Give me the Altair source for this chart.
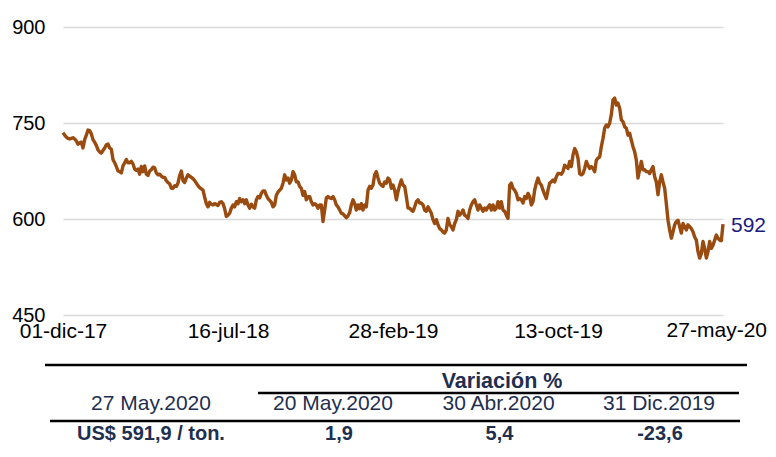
import altair as alt
import pandas as pd

START = "2017-12-01"
END = "2020-05-27"

# Price (US$/ton), in chronological order, evenly spaced in time
SEG1 = [735, 731, 728, 726, 725, 726, 727, 725, 722, 717, 719, 720, 711, 724, 731, 739, 738, 733, 724, 720,
        715, 708, 705, 703, 707, 711, 716, 717, 711, 709, 693, 688, 682, 675, 674, 672, 683, 688, 693, 688,
        688, 690, 686, 678, 676, 678, 670, 682, 674, 683, 670, 668, 675, 677, 681, 680, 672, 669, 670, 667,
        665, 665, 660, 657, 655, 648, 648, 652, 651, 656, 668, 675, 660, 657, 664, 669, 667, 665, 663, 660,
        656, 652, 649, 647, 645, 634, 624, 619, 626, 623, 622, 624, 623, 621, 626, 627, 624, 616]
SEG2 = [604, 606, 609, 617, 622, 619, 627, 624, 632, 627, 630, 624, 630, 622, 617, 623, 619, 617, 630, 635,
        633, 640, 644, 644, 637, 632, 629, 626, 619, 622, 637, 642, 645, 648, 656, 669, 661, 664, 656, 661,
        674, 669, 658, 658, 651, 648, 637, 643, 630, 635, 635, 627, 622, 624, 622, 617, 622, 622, 596, 614,
        633, 635, 633, 632, 635, 630, 622, 619, 614, 609, 608, 605, 602, 605, 610, 622, 630, 624, 614, 622,
        616, 624, 614, 622, 619, 645, 651, 648, 653, 669, 674, 664, 656, 653, 651, 658, 656, 664, 661, 648,
        653, 645]
SEG3 = [630, 643, 653, 661, 653, 651, 635, 617, 617, 614, 612, 619, 627, 630, 625, 625, 622, 614, 612, 619,
        614, 609, 599, 593, 599, 591, 585, 583, 580, 578, 583, 601, 591, 588, 583, 593, 599, 612, 606, 609,
        614, 606, 604, 601, 614, 622, 627, 630, 622, 614, 622, 617, 612, 617, 614, 619, 622, 614, 622, 614,
        617, 627, 617, 627, 614, 612, 606, 601, 653, 656, 648, 645, 640, 630, 632, 630, 625, 635, 632, 640,
        635, 622, 627, 645, 656, 664, 656, 653, 645, 638, 632, 645, 656, 658, 661, 658, 666, 671, 671]
SEG4 = [670, 674, 684, 682, 679, 690, 682, 700, 710, 705, 695, 671, 669, 671, 679, 690, 684, 679, 682, 679,
        674, 692, 695, 697, 713, 726, 742, 747, 744, 750, 763, 786, 789, 778, 781, 773, 755, 752, 744, 742,
        731, 734, 723, 713, 705, 692, 664, 677, 690, 677, 677, 674, 674, 671, 677, 682, 666, 658, 638, 658,
        669, 658, 648, 624, 598, 583, 570, 580, 591, 596, 598, 588, 578, 593, 588, 583, 591, 588, 585, 580,
        572, 567, 549, 539, 546, 565, 554, 539, 549, 565, 554, 559, 567, 575, 570, 567, 566, 592]

PRICE = SEG1 + SEG2 + SEG3 + SEG4
DATES = pd.date_range(START, END, periods=len(PRICE)).round("min")

Y_TICKS = [450, 600, 750, 900]
X_TICKS = [(2017, 12, 1), (2018, 7, 16), (2019, 2, 28), (2019, 10, 13), (2020, 5, 27)]
MONTHS_ES = ["ene", "feb", "mar", "abr", "may", "jun", "jul", "ago", "sep", "oct", "nov", "dic"]

TABLE_GROUP = "Variación %"
TABLE_HEADERS = ["27 May.2020", "20 May.2020", "30 Abr.2020", "31 Dic.2019"]
TABLE_VALUES = ["US$ 591,9 / ton.", "1,9", "5,4", "-23,6"]

FONT = "Liberation Sans"
LINE_COLOR = "#9a4b0f"
TABLE_COLOR = "#1f2f4f"

df = pd.DataFrame({"fecha": DATES, "precio": PRICE})
last = df.tail(1).assign(lbl=lambda d: d["precio"].round(0).astype(int).astype(str))

month_arr = "[" + ",".join("'" + m + "'" for m in MONTHS_ES) + "]"
last_tick = X_TICKS[-1]
last_tick_label = "%02d-%s-%02d" % (last_tick[2], MONTHS_ES[last_tick[1] - 1], last_tick[0] % 100)
# the last tick label is drawn as a separate text so it stays inside the page
x_label_expr = ("year(datum.value) == %d && month(datum.value) == %d ? '' : "
                "timeFormat(datum.value, '%%d') + '-' + %s[month(datum.value)] + '-' + "
                "timeFormat(datum.value, '%%y')") % (last_tick[0], last_tick[1] - 1, month_arr)

x_enc = alt.X(
    "fecha:T",
    scale=alt.Scale(domain=[alt.DateTime(year=2017, month=12, date=1),
                            alt.DateTime(year=2020, month=5, date=27)], nice=False),
    axis=alt.Axis(
        values=[alt.DateTime(year=y, month=m, date=d) for (y, m, d) in X_TICKS],
        labelExpr=x_label_expr, title=None, grid=False, domain=False, ticks=False,
        labelPadding=5, labelFontSize=21, labelFont=FONT, labelColor="black",
        labelFlush=False, labelOverlap=False, labelBound=False,
    ),
)
y_enc = alt.Y(
    "precio:Q",
    scale=alt.Scale(domain=[450, 900], nice=False, zero=False),
    axis=alt.Axis(
        values=Y_TICKS, title=None, grid=True, gridColor="#d9d9d9", gridWidth=1.5,
        domain=False, ticks=False, tickSize=0, labelPadding=18, labelFontSize=20,
        labelFont=FONT, labelColor="black",
    ),
)

line = alt.Chart(df).mark_line(color=LINE_COLOR, strokeWidth=3.4, strokeJoin="round").encode(x=x_enc, y=y_enc)

end_label = alt.Chart(last).mark_text(
    align="left", baseline="middle", dx=8, dy=2, fontSize=21, font=FONT, color="#1a1a7e"
).encode(x="fecha:T", y="precio:Q", text="lbl:N")

last_x_label = alt.Chart(alt.Data(values=[{"t": last_tick_label}])).mark_text(
    align="right", baseline="top", fontSize=21, font=FONT, color="black"
).encode(x=alt.value(704), y=alt.value(293), text="t:N")

one = alt.Data(values=[{"k": 1}])

def rule(x1, x2, y):
    return alt.Chart(one).mark_rule(color="black", strokeWidth=2.5).encode(
        x=alt.value(x1), x2=alt.value(x2), y=alt.value(y))

def txt(s, x, y, bold=False, size=21):
    return alt.Chart(alt.Data(values=[{"t": s}])).mark_text(
        align="center", baseline="middle", fontSize=size, font=FONT, color=TABLE_COLOR,
        fontWeight="bold" if bold else "normal",
    ).encode(x=alt.value(x), y=alt.value(y), text="t:N")

rules = [rule(-18, 684, 338), rule(195, 676, 366), rule(-13, 677, 394)]
header_x = [88, 270, 435.5, 596]
value_x = [88, 276, 436.5, 597]
texts = [txt(TABLE_GROUP, 439, 355, bold=True, size=21.5)]
texts += [txt(h, x, 377) for h, x in zip(TABLE_HEADERS, header_x)]
texts += [txt(v, x, 406.5, bold=True, size=20) for v, x in zip(TABLE_VALUES, value_x)]

chart = alt.layer(line, end_label, last_x_label, *rules, *texts).properties(
    width=660, height=288,
    background="white",
    autosize=alt.AutoSizeParams(type="none"),
    padding={"left": 55, "top": 19, "right": 45, "bottom": 129},
).configure_view(stroke="transparent", strokeWidth=0)

chart.save("out.html", embed_options={"renderer": "svg", "actions": False})
